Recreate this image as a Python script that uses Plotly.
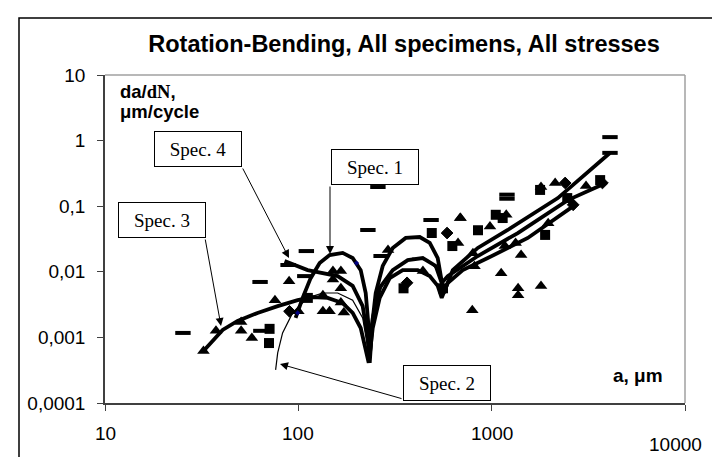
import math
import plotly.graph_objects as go

# ---------------- data ----------------
tri_a = [32.3, 37.5, 50.6, 50.6, 57.5, 75.7, 89.6, 151, 166, 151, 134, 166, 134, 145, 166, 172, 100,
         441, 687, 794, 1120, 291, 3077, 2130, 1800, 1960, 980, 1190, 690, 1170, 1420, 1330, 1370,
         1370, 1800, 815, 800, 670]
tri_v = [0.00062, 0.00126, 0.00172, 0.00126, 0.00098, 0.0037, 0.0072, 0.0103, 0.0103, 0.0076, 0.0044,
         0.0056, 0.0025, 0.0025, 0.0034, 0.0024, 0.0025,
         0.0103, 0.066, 0.0026, 0.0095, 0.0215, 0.203, 0.226, 0.196, 0.055, 0.049, 0.074, 0.066, 0.0248,
         0.0181, 0.0275, 0.0056, 0.0044, 0.0061, 0.0122, 0.0192, 0.0275]

sq_a = [70.5, 71, 112, 350, 490, 850, 626, 3640, 1780, 2460, 1890, 1050, 1140, 560]
sq_v = [0.00082, 0.00135, 0.0040, 0.0056, 0.039, 0.043, 0.0247, 0.25, 0.177, 0.133, 0.0365, 0.074,
        0.066, 0.0056]

dia_a = [365, 588, 3740, 2400, 2640, 90]
dia_v = [0.0068, 0.039, 0.226, 0.226, 0.105, 0.0025]

dash_a = [25.3, 63.4, 64, 258, 229, 486, 1200, 1200, 110, 88.5, 108, 268, 4093, 4093]
dash_v = [0.00117, 0.0070, 0.00126, 0.196, 0.0434, 0.0616, 0.15, 0.13, 0.0207, 0.0127, 0.0086, 0.0174,
          1.13, 0.65]

small_a = [200, 99.2]
small_v = [0.0136, 0.00236]

# fitted curves per specimen
spec3_a = [32.3, 36.0, 40.6, 48.5, 61.5, 78.2, 99.2, 118.6, 141.8, 169.6, 191.0, 210.2, 223.1, 231.2,
           242.6, 263.6, 297.0, 346.7, 414.6, 478.3, 526.0, 551.6, 592.6, 708.8, 954.6, 1538, 2692]
spec3_v = [0.00062, 0.00088, 0.00130, 0.00178, 0.00236, 0.0030, 0.0037, 0.0041, 0.0040, 0.00334,
           0.00236, 0.00139, 0.00069, 0.00041,
           0.00139, 0.0040, 0.0080, 0.0106, 0.0106, 0.0086, 0.0061, 0.0040, 0.00675, 0.0106, 0.0162,
           0.0328, 0.104]

spec1_a = [96.8, 105.3, 115.8, 128.9, 145.2, 169.6, 191.0, 210.2, 223.1, 231.2, 234.0,
           239.7, 251.3, 273.2, 307.8, 359.3, 424.6, 478.3, 526.0, 551.6, 565.0,
           629.1, 847.5, 1211, 2199, 4087]
spec1_v = [0.00198, 0.0040, 0.0080, 0.0136, 0.0180, 0.0194, 0.0162, 0.0106, 0.00475, 0.00139, 0.00049,
           0.00139, 0.00475, 0.0123, 0.0231, 0.0328, 0.0339, 0.0275, 0.0162, 0.0080, 0.00475,
           0.0106, 0.0231, 0.0434, 0.133, 0.647]

spec4_a = [84.9, 111.7, 159.8, 191.0, 215.2, 228.5, 234.0,
           242.6, 263.6, 307.8, 368.1, 440.1, 513.6, 551.6,
           592.6, 847.5, 1365, 2477, 3896]
spec4_v = [0.0146, 0.0106, 0.0086, 0.0061, 0.0030, 0.00100, 0.00041,
           0.00198, 0.0057, 0.0106, 0.0151, 0.0162, 0.0123, 0.00675,
           0.0086, 0.0174, 0.039, 0.124, 0.226]

spec2_a = [76.3, 78.2, 82.9, 93.4, 111.7, 133.6, 159.8, 191.0, 215.2, 228.5,
           242.6, 273.2, 326.6, 390.6, 467.1, 526.0, 558.3]
spec2_v = [0.00032, 0.00058, 0.00117, 0.00236, 0.0040, 0.00475, 0.00475, 0.0037, 0.00198, 0.00069,
           0.00198, 0.00675, 0.0123, 0.0162, 0.0151, 0.0106, 0.0057]

x_ticks = [10, 100, 1000, 10000]
x_tick_labels = ["10", "100", "1000", "10000"]
y_ticks = [10, 1, 0.1, 0.01, 0.001, 0.0001]
y_tick_labels = ["10", "1", "0,1", "0,01", "0,001", "0,0001"]

# ---------------- layout geometry ----------------
W, H = 720, 457
L, R, T, B = 97, 677, 67, 395


def pxx(x):
    return (x - L) / (R - L)


def pxy(y):
    return (B - y) / (B - T)


fig = go.Figure()

for a, v, w in [(spec3_a, spec3_v, 3.8), (spec1_a, spec1_v, 3.8), (spec4_a, spec4_v, 3.8),
                (spec2_a, spec2_v, 1.2)]:
    fig.add_trace(go.Scatter(x=a, y=v, mode="lines", line=dict(color="black", width=w),
                             showlegend=False, hoverinfo="skip"))

fig.add_trace(go.Scatter(x=tri_a, y=tri_v, mode="markers", showlegend=False,
                         marker=dict(symbol="triangle-up", size=11, color="black")))
fig.add_trace(go.Scatter(x=sq_a, y=sq_v, mode="markers", showlegend=False,
                         marker=dict(symbol="square", size=10, color="black")))
fig.add_trace(go.Scatter(x=dia_a, y=dia_v, mode="markers", showlegend=False,
                         marker=dict(symbol="diamond", size=9, color="black",
                                     line=dict(color="black", width=1))))
fig.add_trace(go.Scatter(x=dash_a, y=dash_v, mode="markers", showlegend=False,
                         marker=dict(symbol="line-ew", size=11, color="black",
                                     line=dict(color="black", width=4))))
fig.add_trace(go.Scatter(x=small_a, y=small_v, mode="markers", showlegend=False,
                         marker=dict(symbol="diamond", size=4, color="#000080")))

FONT = "Liberation Sans, Arial, sans-serif"
SERIF = "Liberation Serif, Times New Roman, serif"

annotations = []
# x tick labels
for val, lab in zip(x_ticks, x_tick_labels):
    if lab == "10000":
        annotations.append(dict(x=pxx(667), y=pxy(437), xref="paper", yref="paper", text=lab,
                                xanchor="center", yanchor="middle", showarrow=False,
                                font=dict(family=FONT, size=19, color="black")))
    else:
        annotations.append(dict(x=math.log10(val), y=pxy(425), xref="x", yref="paper", text=lab,
                                xanchor="center", yanchor="middle", showarrow=False,
                                font=dict(family=FONT, size=19, color="black")))

# axis titles
annotations.append(dict(x=pxx(110), y=pxy(83), xref="paper", yref="paper", xanchor="left",
                        yanchor="middle",
                        text="<b>da/<span style='font-family:Liberation Serif'>dN</span>,</b>",
                        showarrow=False, font=dict(family=FONT, size=18.5, color="black")))
annotations.append(dict(x=pxx(110), y=pxy(103), xref="paper", yref="paper", xanchor="left",
                        yanchor="middle", text="<b>\u03bcm/cycle</b>", showarrow=False,
                        font=dict(family=FONT, size=18.5, color="black")))
annotations.append(dict(x=pxx(630), y=pxy(367), xref="paper", yref="paper", xanchor="center",
                        yanchor="middle", text="<b>a, \u03bcm</b>", showarrow=False,
                        font=dict(family=FONT, size=19, color="black")))

# spec boxes
boxes = [("Spec. 4", 189.5, 141), ("Spec. 1", 366.5, 159), ("Spec. 3", 153.5, 211.5),
         ("Spec. 2", 439, 374.5)]
for txt, cx, cy in boxes:
    annotations.append(dict(x=pxx(cx), y=pxy(cy), xref="paper", yref="paper", text=txt,
                            xanchor="center", yanchor="middle",
                            showarrow=False, width=86, height=34, borderpad=0, borderwidth=1,
                            bordercolor="black", bgcolor="white",
                            font=dict(family=SERIF, size=19, color="black")))

# arrows: (tail, tip)
arrows = [((234, 159), (281, 250)), ((322, 177), (322, 246)), ((197, 230), (213, 318)),
          ((395, 391), (272, 356))]
for (tx, ty), (hx, hy) in arrows:
    annotations.append(dict(x=pxx(hx), y=pxy(hy), xref="paper", yref="paper", text="",
                            showarrow=True, axref="pixel", ayref="pixel", ax=tx - hx, ay=ty - hy,
                            arrowhead=2, arrowsize=1.6, arrowwidth=1, arrowcolor="black"))

shapes = [
    dict(type="rect", xref="paper", yref="paper", x0=pxx(11), y0=pxy(10), x1=pxx(760), y1=pxy(500),
         line=dict(color="black", width=1.5), layer="below"),
    dict(type="line", xref="paper", yref="paper", x0=0, y0=1, x1=1, y1=1,
         line=dict(color="#a0a0a0", width=1.5)),
    dict(type="line", xref="paper", yref="paper", x0=1, y0=0, x1=1, y1=1,
         line=dict(color="#a0a0a0", width=1.5)),
]

fig.update_layout(
    width=W, height=H,
    margin=dict(l=L, r=W - R, t=T, b=H - B),
    paper_bgcolor="white", plot_bgcolor="white",
    title=dict(text="<b>Rotation-Bending, All specimens, All stresses</b>",
               x=396 / W, xanchor="center", y=1 - 36 / H, yanchor="middle",
               font=dict(family=FONT, size=23.5, color="black")),
    annotations=annotations, shapes=shapes,
    xaxis=dict(type="log", range=[1, 4], showgrid=False, zeroline=False, showline=True,
               linecolor="#404040", linewidth=1.5, ticks="outside", ticklen=6, tickcolor="#404040",
               tickvals=x_ticks, showticklabels=False),
    yaxis=dict(type="log", range=[-4, 1], showgrid=False, zeroline=False, showline=True,
               linecolor="#404040", linewidth=1.5, ticks="outside", ticklen=6, tickcolor="#404040",
               tickvals=y_ticks, ticktext=y_tick_labels, ticklabelstandoff=8,
               tickfont=dict(family=FONT, size=19, color="black")),
)

fig.write_html("out.html")
